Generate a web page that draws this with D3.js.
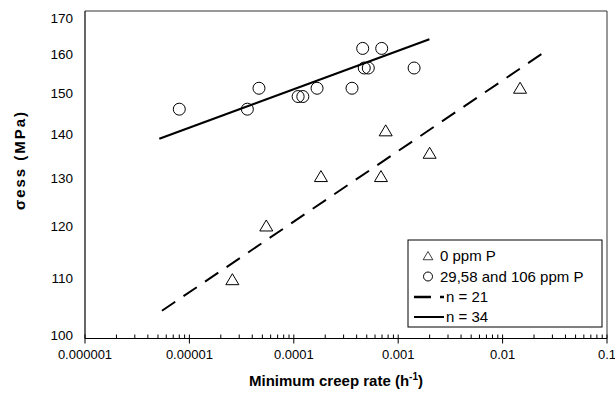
<!DOCTYPE html>
<html>
<head>
<meta charset="utf-8">
<script src="https://cdn.jsdelivr.net/npm/d3@7"></script>
<style>
  html, body { margin: 0; padding: 0; background: #fff; }
  svg { display: block; font-family: "Liberation Sans", Arial, sans-serif; }
</style>
</head>
<body>
<svg id="chart" width="615" height="394"></svg>
<script>
// ---- data ----
const xTickValues = [1e-6, 1e-5, 1e-4, 1e-3, 1e-2, 1e-1];
const xTickLabels = ["0.000001", "0.00001", "0.0001", "0.001", "0.01", "0.1"];
const yTickValues = [100, 110, 120, 130, 140, 150, 160, 170];
const yTickLabels = ["100", "110", "120", "130", "140", "150", "160", "170"];

// 0 ppm P (triangles)
const triRate   = [2.58e-5, 5.45e-5, 1.82e-4, 6.84e-4, 7.59e-4, 2.0e-3, 1.47e-2];
const triStress = [110, 120, 130, 130, 140, 135, 150];

// 29,58 and 106 ppm P (circles)
const circRate   = [8.0e-6, 3.59e-5, 4.64e-5, 1.10e-4, 1.22e-4, 1.67e-4, 3.61e-4, 4.57e-4, 4.73e-4, 5.17e-4, 6.95e-4, 1.42e-3];
const circStress = [145, 145, 150, 148, 148, 150, 150, 160, 155, 155, 160, 155];

// fitted lines
const fit21Rate   = [5.46e-6, 2.44e-2];
const fit21Stress = [104.6, 158.8];
const fit34Rate   = [5.15e-6, 1.99e-3];
const fit34Stress = [138.2, 162.4];

const legendLabels = ["0 ppm P", "29,58 and 106 ppm P", "n = 21", "n = 34"];
const xTitle = "Minimum creep rate (h";
const yTitle = "σess (MPa)";

// ---- layout ----
const svg = d3.select("#chart");
const pLeft = 85, pRight = 607, pTop = 11, pBottom = 338.5;

const x = d3.scaleLog().domain([1e-6, 1e-1]).range([pLeft, pRight]);
const y = d3.scaleLog().domain([100, 170]).range([pBottom, pTop]);
// tick-label placement (labels sit slightly inside the axis ends, as in the original)
const yLab = d3.scaleLog().domain([100, 170]).range([335, 18.5]);

// frame (top & right)
svg.append("path")
  .attr("d", `M${pLeft},${pTop}H${pRight}V${pBottom}`)
  .attr("fill", "none").attr("stroke", "#333").attr("stroke-width", 1);

// x axis
const minorTicks = [];
for (let e = -6; e < -1; e++) for (let m = 2; m <= 9; m++) minorTicks.push(m * Math.pow(10, e));

const xAxisG = svg.append("g").attr("transform", `translate(0,${pBottom})`);
xAxisG.append("line").attr("x1", pLeft).attr("x2", pRight).attr("stroke", "#000").attr("stroke-width", 1.2);
xAxisG.selectAll(".minor").data(minorTicks).enter().append("line")
  .attr("x1", d => x(d)).attr("x2", d => x(d)).attr("y1", -4).attr("y2", 0)
  .attr("stroke", "#000").attr("stroke-width", 1);
xAxisG.selectAll(".major").data(xTickValues).enter().append("line")
  .attr("x1", d => x(d)).attr("x2", d => x(d)).attr("y1", -4).attr("y2", 5)
  .attr("stroke", "#000").attr("stroke-width", 1);
xAxisG.selectAll(".lab").data(xTickValues).enter().append("text")
  .attr("x", d => x(d)).attr("y", 20).attr("text-anchor", "middle")
  .attr("font-size", 13).attr("fill", "#000")
  .text((d, i) => xTickLabels[i]);

// y axis
svg.append("line").attr("x1", pLeft).attr("x2", pLeft).attr("y1", pTop).attr("y2", pBottom)
  .attr("stroke", "#000").attr("stroke-width", 1.2);
svg.selectAll(".ylab").data(yTickValues).enter().append("text")
  .attr("x", 73).attr("y", d => yLab(d)).attr("dy", "0.35em").attr("text-anchor", "end")
  .attr("font-size", 13.5).attr("fill", "#000")
  .text((d, i) => yTickLabels[i]);

// titles
const xt = svg.append("text").attr("x", 336).attr("y", 386).attr("text-anchor", "middle")
  .attr("font-size", 15).attr("font-weight", "bold").attr("fill", "#000");
xt.append("tspan").text(xTitle);
xt.append("tspan").attr("font-size", 10).attr("dy", -6).text("-1");
xt.append("tspan").attr("dy", 6).text(")");

svg.append("text")
  .attr("transform", "translate(25,161) rotate(-90)")
  .attr("text-anchor", "middle").attr("font-size", 15).attr("font-weight", "bold").attr("fill", "#000")
  .attr("textLength", 98).attr("lengthAdjust", "spacing")
  .text(yTitle);

// fitted lines
const line = d3.line().x(d => x(d[0])).y(d => y(d[1]));
svg.append("path").datum(fit21Rate.map((r, i) => [r, fit21Stress[i]]))
  .attr("d", line).attr("fill", "none").attr("stroke", "#000").attr("stroke-width", 2)
  .attr("stroke-dasharray", "16,10");
svg.append("path").datum(fit34Rate.map((r, i) => [r, fit34Stress[i]]))
  .attr("d", line).attr("fill", "none").attr("stroke", "#000").attr("stroke-width", 2.2);

// markers
const triPath = "M0,-6L6.5,5L-6.5,5Z";
svg.selectAll(".tri").data(triRate.map((r, i) => [r, triStress[i]])).enter().append("path")
  .attr("d", triPath)
  .attr("transform", d => `translate(${x(d[0])},${y(d[1])})`)
  .attr("fill", "none").attr("stroke", "#000").attr("stroke-width", 1);
svg.selectAll(".circ").data(circRate.map((r, i) => [r, circStress[i]])).enter().append("circle")
  .attr("cx", d => x(d[0])).attr("cy", d => y(d[1])).attr("r", 6)
  .attr("fill", "none").attr("stroke", "#000").attr("stroke-width", 1);

// legend
const lg = svg.append("g");
lg.append("rect").attr("x", 408).attr("y", 240).attr("width", 194).attr("height", 87)
  .attr("fill", "#fff").attr("stroke", "#000").attr("stroke-width", 1);
const rowY = [256, 276.5, 297, 317];
lg.append("path").attr("d", triPath)
  .attr("fill", "none").attr("stroke", "#000").attr("stroke-width", 1)
  .attr("transform", `translate(428,${rowY[0]}) scale(0.75)`);
lg.append("circle").attr("cx", 428).attr("cy", rowY[1]).attr("r", 4.5)
  .attr("fill", "none").attr("stroke", "#000").attr("stroke-width", 1);
lg.append("line").attr("x1", 414).attr("x2", 444).attr("y1", rowY[2]).attr("y2", rowY[2])
  .attr("stroke", "#000").attr("stroke-width", 2.5).attr("stroke-dasharray", "17,9");
lg.append("line").attr("x1", 414).attr("x2", 444).attr("y1", rowY[3]).attr("y2", rowY[3])
  .attr("stroke", "#000").attr("stroke-width", 2);
legendLabels.forEach((t, i) => {
  lg.append("text").attr("x", i < 2 ? 440 : 446).attr("y", rowY[i]).attr("dy", "0.35em")
    .attr("font-size", 15).attr("fill", "#000").text(t);
});
</script>
</body>
</html>
